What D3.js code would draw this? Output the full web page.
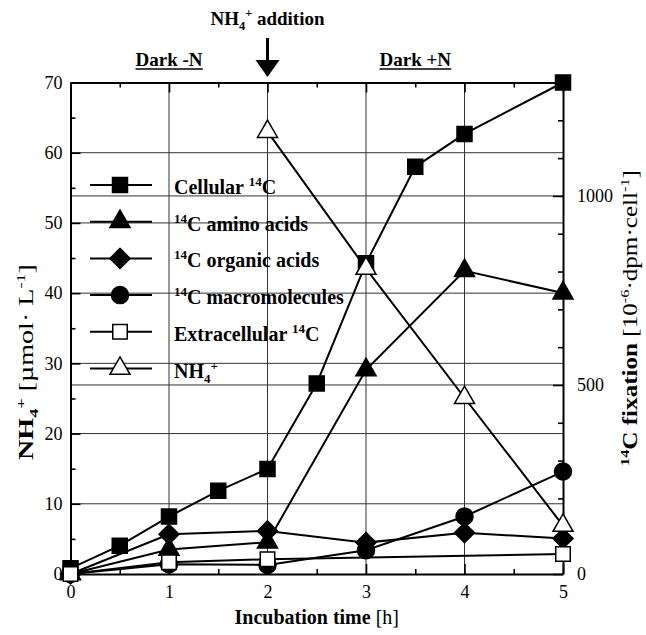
<!DOCTYPE html>
<html>
<head>
<meta charset="utf-8">
<script src="https://cdn.jsdelivr.net/npm/d3@7"></script>
<style>
  body { margin: 0; background: #fff; }
  text { font-family: "Liberation Serif", "Times New Roman", serif; }
</style>
</head>
<body>
<div id="chart"></div>
<script>
const width = 646;
const height = 635;

// data (14C series on right axis, NH4+ on left axis)
const cellTimes = [0, 0.5, 1, 1.5, 2, 2.5, 3, 3.5, 4, 5];
const cellular = [15, 75, 152, 220, 278, 504, 822, 1077, 1164, 1300];
const hourTimes = [0, 1, 2, 3, 4, 5];
const aminoAcids = [0, 65, 84, 540, 802, 743];
const organicAcids = [0, 105, 114, 83, 109, 94];
const macromolecules = [0, 26, 24, 63, 152, 271];
const extraTimes = [0, 1, 2, 5];
const extracellular = [0, 31, 39, 53];
const nh4Times = [2, 3, 4, 5];
const nh4 = [63, 43.5, 25.1, 6.9];

const xTicks = [0, 1, 2, 3, 4, 5];
const leftTicks = [0, 10, 20, 30, 40, 50, 60, 70];
const rightTicks = [0, 500, 1000];

const svg = d3.select("#chart").append("svg")
  .attr("width", width)
  .attr("height", height);

const x = d3.scaleLinear().domain([0, 5]).range([70.5, 563]);
const yL = d3.scaleLinear().domain([0, 70]).range([574, 82.5]);
const yR = d3.scaleLinear().domain([0, 1300]).range([574, 82.5]);

// grid
const grid = svg.append("g").attr("stroke", "#333").attr("stroke-width", 1);
[10, 20, 30, 40, 50, 60].forEach(v => {
  grid.append("line").attr("x1", x(0)).attr("x2", x(5)).attr("y1", yL(v)).attr("y2", yL(v));
});
[500, 1000].forEach(v => {
  grid.append("line").attr("x1", x(0)).attr("x2", x(5)).attr("y1", yR(v)).attr("y2", yR(v));
});
[1, 2, 3, 4].forEach(v => {
  grid.append("line").attr("x1", x(v)).attr("x2", x(v)).attr("y1", yL(0)).attr("y2", yL(70));
});

function styleAxis(g, labels) {
  g.attr("font-family", "Liberation Serif, Times New Roman, serif").attr("font-size", 18);
  g.select(".domain").attr("stroke-width", 2);
  g.selectAll(".tick line").attr("stroke-width", 1.6);
  g.selectAll(".tick text").attr("fill", "#000");
  if (!labels) g.selectAll(".tick text").remove();
}

// bottom
svg.append("g").attr("transform", `translate(0,${yL(0)})`)
  .call(d3.axisBottom(x).tickValues(xTicks).tickSize(-10).tickSizeOuter(0).tickPadding(11).tickFormat(d3.format("d")))
  .call(g => styleAxis(g, true));
svg.append("g").attr("transform", `translate(0,${yL(0)})`)
  .call(d3.axisBottom(x).tickValues(d3.range(0.5, 5, 1)).tickSize(-5).tickSizeOuter(0))
  .call(g => { styleAxis(g, false); g.select(".domain").remove(); });
// top
svg.append("g").attr("transform", `translate(0,${yL(70)})`)
  .call(d3.axisTop(x).tickValues(xTicks).tickSize(-10).tickSizeOuter(0))
  .call(g => styleAxis(g, false));
svg.append("g").attr("transform", `translate(0,${yL(70)})`)
  .call(d3.axisTop(x).tickValues(d3.range(0.5, 5, 1)).tickSize(-5).tickSizeOuter(0))
  .call(g => { styleAxis(g, false); g.select(".domain").remove(); });
// left
svg.append("g").attr("transform", `translate(${x(0)},0)`)
  .call(d3.axisLeft(yL).tickValues(leftTicks).tickSize(-10).tickSizeOuter(0).tickPadding(8).tickFormat(d3.format("d")))
  .call(g => styleAxis(g, true));
svg.append("g").attr("transform", `translate(${x(0)},0)`)
  .call(d3.axisLeft(yL).tickValues(d3.range(5, 70, 10)).tickSize(-5).tickSizeOuter(0))
  .call(g => { styleAxis(g, false); g.select(".domain").remove(); });
// right
svg.append("g").attr("transform", `translate(${x(5)},0)`)
  .call(d3.axisRight(yR).tickValues(rightTicks).tickSize(-10).tickSizeOuter(0).tickPadding(14).tickFormat(d3.format("d")))
  .call(g => styleAxis(g, true));
svg.append("g").attr("transform", `translate(${x(5)},0)`)
  .call(d3.axisRight(yR).tickValues(d3.range(100, 1300, 100).filter(v => v % 500 !== 0)).tickSize(-5).tickSizeOuter(0))
  .call(g => { styleAxis(g, false); g.select(".domain").remove(); });

// series
const series = [
  { name: "cell", t: cellTimes, v: cellular, y: yR, shape: d3.symbolSquare, size: 225, fill: "#000", rot: 0 },
  { name: "amino", t: hourTimes, v: aminoAcids, y: yR, shape: d3.symbolTriangle, size: 175, fill: "#000", rot: 0 },
  { name: "organic", t: hourTimes, v: organicAcids, y: yR, shape: d3.symbolSquare, size: 200, fill: "#000", rot: 45 },
  { name: "macro", t: hourTimes, v: macromolecules, y: yR, shape: d3.symbolCircle, size: 227, fill: "#000", rot: 0 },
  { name: "extra", t: extraTimes, v: extracellular, y: yR, shape: d3.symbolSquare, size: 210, fill: "#fff", rot: 0 },
  { name: "nh4", t: nh4Times, v: nh4, y: yL, shape: d3.symbolTriangle, size: 175, fill: "#fff", rot: 0 }
];

const line = d3.line();
const lines = svg.append("g").attr("fill", "none").attr("stroke", "#000").attr("stroke-width", 2);
series.forEach(s => {
  const pts = s.t.map((t, i) => [x(t), s.y(s.v[i])]);
  lines.append("path").attr("d", line(pts));
});

const marks = svg.append("g");
series.forEach(s => {
  marks.selectAll(null)
    .data(s.t.map((t, i) => [t, s.v[i]]))
    .join("path")
    .attr("transform", d => `translate(${x(d[0])},${s.y(d[1])}) rotate(${s.rot})`)
    .attr("d", d3.symbol().type(s.shape).size(s.size))
    .attr("fill", s.fill)
    .attr("stroke", "#000")
    .attr("stroke-width", 1.5);
});

// rich text helper: parts [text, bold, "sup"|"sub"|null]
function rich(g, parts, size) {
  let shift = 0;
  parts.forEach(([t, bold, kind]) => {
    const target = kind === "sup" ? -size * 0.4 : kind === "sub" ? size * 0.25 : 0;
    g.append("tspan")
      .attr("dy", target - shift)
      .attr("font-weight", bold ? "bold" : "normal")
      .attr("font-size", kind ? size * 0.65 : size)
      .text(t);
    shift = target;
  });
  return g;
}

// legend
const legendItems = [
  [["Cellular ", true], ["14", true, "sup"], ["C", true]],
  [["14", true, "sup"], ["C amino acids", true]],
  [["14", true, "sup"], ["C organic acids", true]],
  [["14", true, "sup"], ["C macromolecules", true]],
  [["Extracellular ", true], ["14", true, "sup"], ["C", true]],
  [["NH", true], ["4", true, "sub"], ["+", true, "sup"]]
];
const legend = svg.append("g");
series.forEach((s, i) => {
  const ly = 185 + i * 36.7;
  legend.append("line").attr("x1", 90).attr("x2", 152).attr("y1", ly).attr("y2", ly)
    .attr("stroke", "#000").attr("stroke-width", 2);
  legend.append("path")
    .attr("transform", `translate(120,${ly}) rotate(${s.rot})`)
    .attr("d", d3.symbol().type(s.shape).size(s.size))
    .attr("fill", s.fill).attr("stroke", "#000").attr("stroke-width", 1.5);
  rich(legend.append("text").attr("x", 174).attr("y", ly + 9), legendItems[i], 20);
});

// annotations
const notes = svg.append("g");
rich(notes.append("text").attr("x", x(2)).attr("y", 25).attr("text-anchor", "middle"),
  [["NH", true], ["4", true, "sub"], ["+", true, "sup"], [" addition", true]], 19);
notes.append("line").attr("x1", x(2)).attr("x2", x(2)).attr("y1", 38).attr("y2", 64)
  .attr("stroke", "#000").attr("stroke-width", 3);
notes.append("path")
  .attr("d", `M${x(2) - 12},60 L${x(2) + 12},60 L${x(2)},77 Z`).attr("fill", "#000");

[["Dark -N", 1], ["Dark +N", 3.5]].forEach(([label, t]) => {
  const txt = notes.append("text").attr("x", x(t)).attr("y", 66).attr("text-anchor", "middle")
    .attr("font-weight", "bold").attr("font-size", 19).text(label);
  const bb = txt.node().getBBox();
  notes.append("line").attr("x1", bb.x).attr("x2", bb.x + bb.width).attr("y1", 69).attr("y2", 69)
    .attr("stroke", "#000").attr("stroke-width", 1.5);
});

// axis titles
rich(svg.append("text").attr("x", x(2.5)).attr("y", 624).attr("text-anchor", "middle"),
  [["Incubation time ", true], ["[h]", false]], 20);

rich(svg.append("text").attr("transform", "translate(33,362) rotate(-90)").attr("text-anchor", "middle")
    .attr("textLength", 196).attr("lengthAdjust", "spacingAndGlyphs"),
  [["NH", true], ["4", true, "sub"], ["+", true, "sup"], [" [µmol· L", false], ["-1", false, "sup"], ["]", false]], 20);

rich(svg.append("text").attr("transform", "translate(637,318) rotate(-90)").attr("text-anchor", "middle")
    .attr("textLength", 296).attr("lengthAdjust", "spacingAndGlyphs"),
  [["14", true, "sup"], ["C fixation ", true], ["[10", false], ["-6", false, "sup"], ["·dpm·cell", false], ["-1", false, "sup"], ["]", false]], 20);
</script>
</body>
</html>
